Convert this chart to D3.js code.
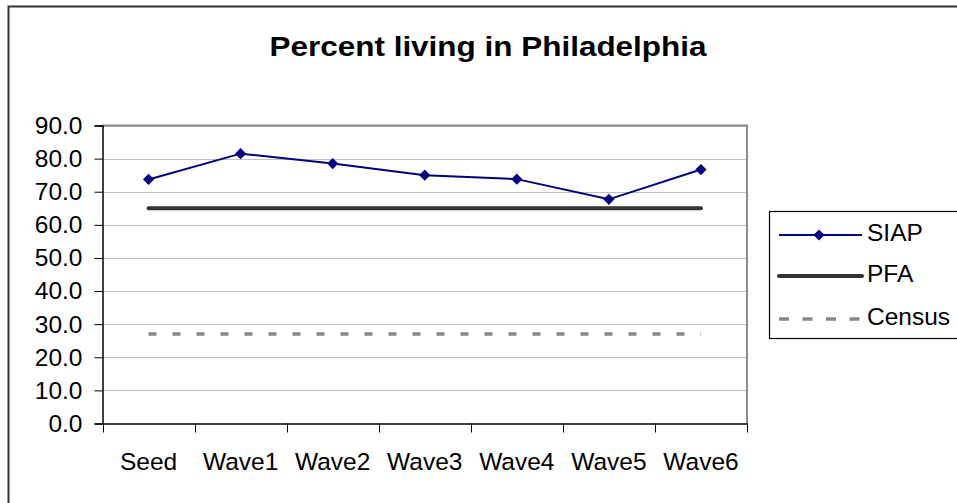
<!DOCTYPE html>
<html>
<head>
<meta charset="utf-8">
<script src="https://cdn.jsdelivr.net/npm/d3@7"></script>
<style>
  html, body { margin: 0; padding: 0; background: #fff; }
  svg { display: block; font-family: "Liberation Sans", Arial, sans-serif; }
</style>
</head>
<body>
<svg id="chart" width="957" height="503"></svg>
<script>
// Survey waves on the category axis
const categories = ["Seed", "Wave1", "Wave2", "Wave3", "Wave4", "Wave5", "Wave6"];
// Percent of respondents living in Philadelphia
const siapValues = [73.7, 81.5, 78.5, 75.0, 73.8, 67.7, 76.7];
const pfaValues = [65, 65, 65, 65, 65, 65, 65];
const censusValues = [27, 27, 27, 27, 27, 27, 27];
const yTicks = [0, 10, 20, 30, 40, 50, 60, 70, 80, 90];
const seriesNames = ["SIAP", "PFA", "Census"];

const labelFont = 24.5;
const svg = d3.select("#chart");

// Outer chart frame (runs past the right and bottom edges)
svg.append("rect")
  .attr("x", 8.5).attr("y", 6.5)
  .attr("width", 1000).attr("height", 600)
  .attr("fill", "#fff").attr("stroke", "#333").attr("stroke-width", 2);

const plot = { left: 102.5, top: 125.5, right: 747, bottom: 423.5 };

const x = d3.scaleBand().domain(categories).range([plot.left, plot.right]).padding(0);
const y = d3.scaleLinear().domain([0, 90]).range([plot.bottom, plot.top]);
const cx = d => x(d) + x.bandwidth() / 2;

// Title
svg.append("text")
  .attr("x", 488).attr("y", 56)
  .attr("text-anchor", "middle")
  .attr("font-size", 28).attr("font-weight", "bold")
  .attr("textLength", 437).attr("lengthAdjust", "spacingAndGlyphs")
  .attr("fill", "#000")
  .text("Percent living in Philadelphia");

// Gridlines
svg.append("g")
  .selectAll("line")
  .data(yTicks.filter(t => t > 0))
  .join("line")
  .attr("x1", plot.left).attr("x2", plot.right)
  .attr("y1", d => Math.round(y(d)) + 0.5).attr("y2", d => Math.round(y(d)) + 0.5)
  .attr("stroke", "#c0c0c0").attr("stroke-width", 1);

// Plot area border (top and right)
svg.append("path")
  .attr("d", `M${plot.left},${plot.top}H${plot.right}V${plot.bottom}`)
  .attr("fill", "none").attr("stroke", "#8c8c8c").attr("stroke-width", 2);

// Y axis
const yAxis = d3.axisLeft(y).tickValues(yTicks).tickFormat(d3.format(".1f")).tickSize(8).tickPadding(12);
const gy = svg.append("g").attr("transform", `translate(${plot.left},0)`).call(yAxis);
gy.select(".domain").attr("stroke", "#000").attr("stroke-width", 1.5);
gy.selectAll(".tick line").attr("stroke", "#000");
gy.selectAll(".tick text")
  .attr("font-size", labelFont).attr("fill", "#000")
  .attr("font-family", "Liberation Sans, Arial, sans-serif");

// X axis with ticks between categories
const xAxis = d3.axisBottom(x).tickSize(0).tickPadding(0);
const gx = svg.append("g").attr("transform", `translate(0,${plot.bottom})`).call(xAxis);
gx.select(".domain").attr("stroke", "#000").attr("stroke-width", 1.5);
gx.selectAll(".tick text")
  .attr("y", 46.5).attr("dy", 0)
  .attr("font-size", labelFont).attr("fill", "#000")
  .attr("font-family", "Liberation Sans, Arial, sans-serif");
const boundaries = categories.map(c => x(c)).concat([plot.right]);
svg.append("g").selectAll("line").data(boundaries).join("line")
  .attr("x1", d => Math.round(d) + 0.5).attr("x2", d => Math.round(d) + 0.5)
  .attr("y1", plot.bottom).attr("y2", plot.bottom + 9)
  .attr("stroke", "#000").attr("stroke-width", 1);

const line = d3.line().x((d, i) => cx(categories[i])).y(d => y(d));

// Census reference line
svg.append("path").datum(censusValues)
  .attr("d", line).attr("fill", "none")
  .attr("stroke", "#888").attr("stroke-width", 3.5)
  .attr("stroke-dasharray", "8,16");

// PFA reference line
svg.append("path").datum(pfaValues)
  .attr("d", line).attr("fill", "none")
  .attr("stroke", "#333").attr("stroke-width", 4).attr("stroke-linecap", "round");

// SIAP series
svg.append("path").datum(siapValues)
  .attr("d", line).attr("fill", "none")
  .attr("stroke", "#000080").attr("stroke-width", 2);

const diamond = d3.symbol().type(d3.symbolDiamond2).size(80);
svg.append("g").selectAll("path").data(siapValues).join("path")
  .attr("transform", (d, i) => `translate(${cx(categories[i])},${y(d)})`)
  .attr("d", diamond).attr("fill", "#000080");

// Legend
const legend = svg.append("g");
legend.append("rect")
  .attr("x", 769.5).attr("y", 211.5).attr("width", 300).attr("height", 127)
  .attr("fill", "#fff").attr("stroke", "#000").attr("stroke-width", 1.2);

const legendRows = [
  { name: seriesNames[0], y: 235, stroke: "#000080", width: 2, dash: null, marker: true },
  { name: seriesNames[1], y: 276, stroke: "#333", width: 4, dash: null, marker: false },
  { name: seriesNames[2], y: 319, stroke: "#888", width: 3.5, dash: "10,13.5", marker: false }
];
const rows = legend.selectAll("g.row").data(legendRows).join("g").attr("class", "row");
rows.append("line")
  .attr("x1", 779).attr("x2", 862)
  .attr("y1", d => d.y).attr("y2", d => d.y)
  .attr("stroke", d => d.stroke).attr("stroke-width", d => d.width)
  .attr("stroke-dasharray", d => d.dash)
  .attr("stroke-linecap", d => d.width === 4 ? "round" : "butt");
rows.filter(d => d.marker).append("path")
  .attr("transform", d => `translate(819,${d.y})`)
  .attr("d", diamond).attr("fill", "#000080");
rows.append("text")
  .attr("x", 867).attr("y", d => d.y + 6)
  .attr("font-size", labelFont).attr("fill", "#000")
  .text(d => d.name);
</script>
</body>
</html>
